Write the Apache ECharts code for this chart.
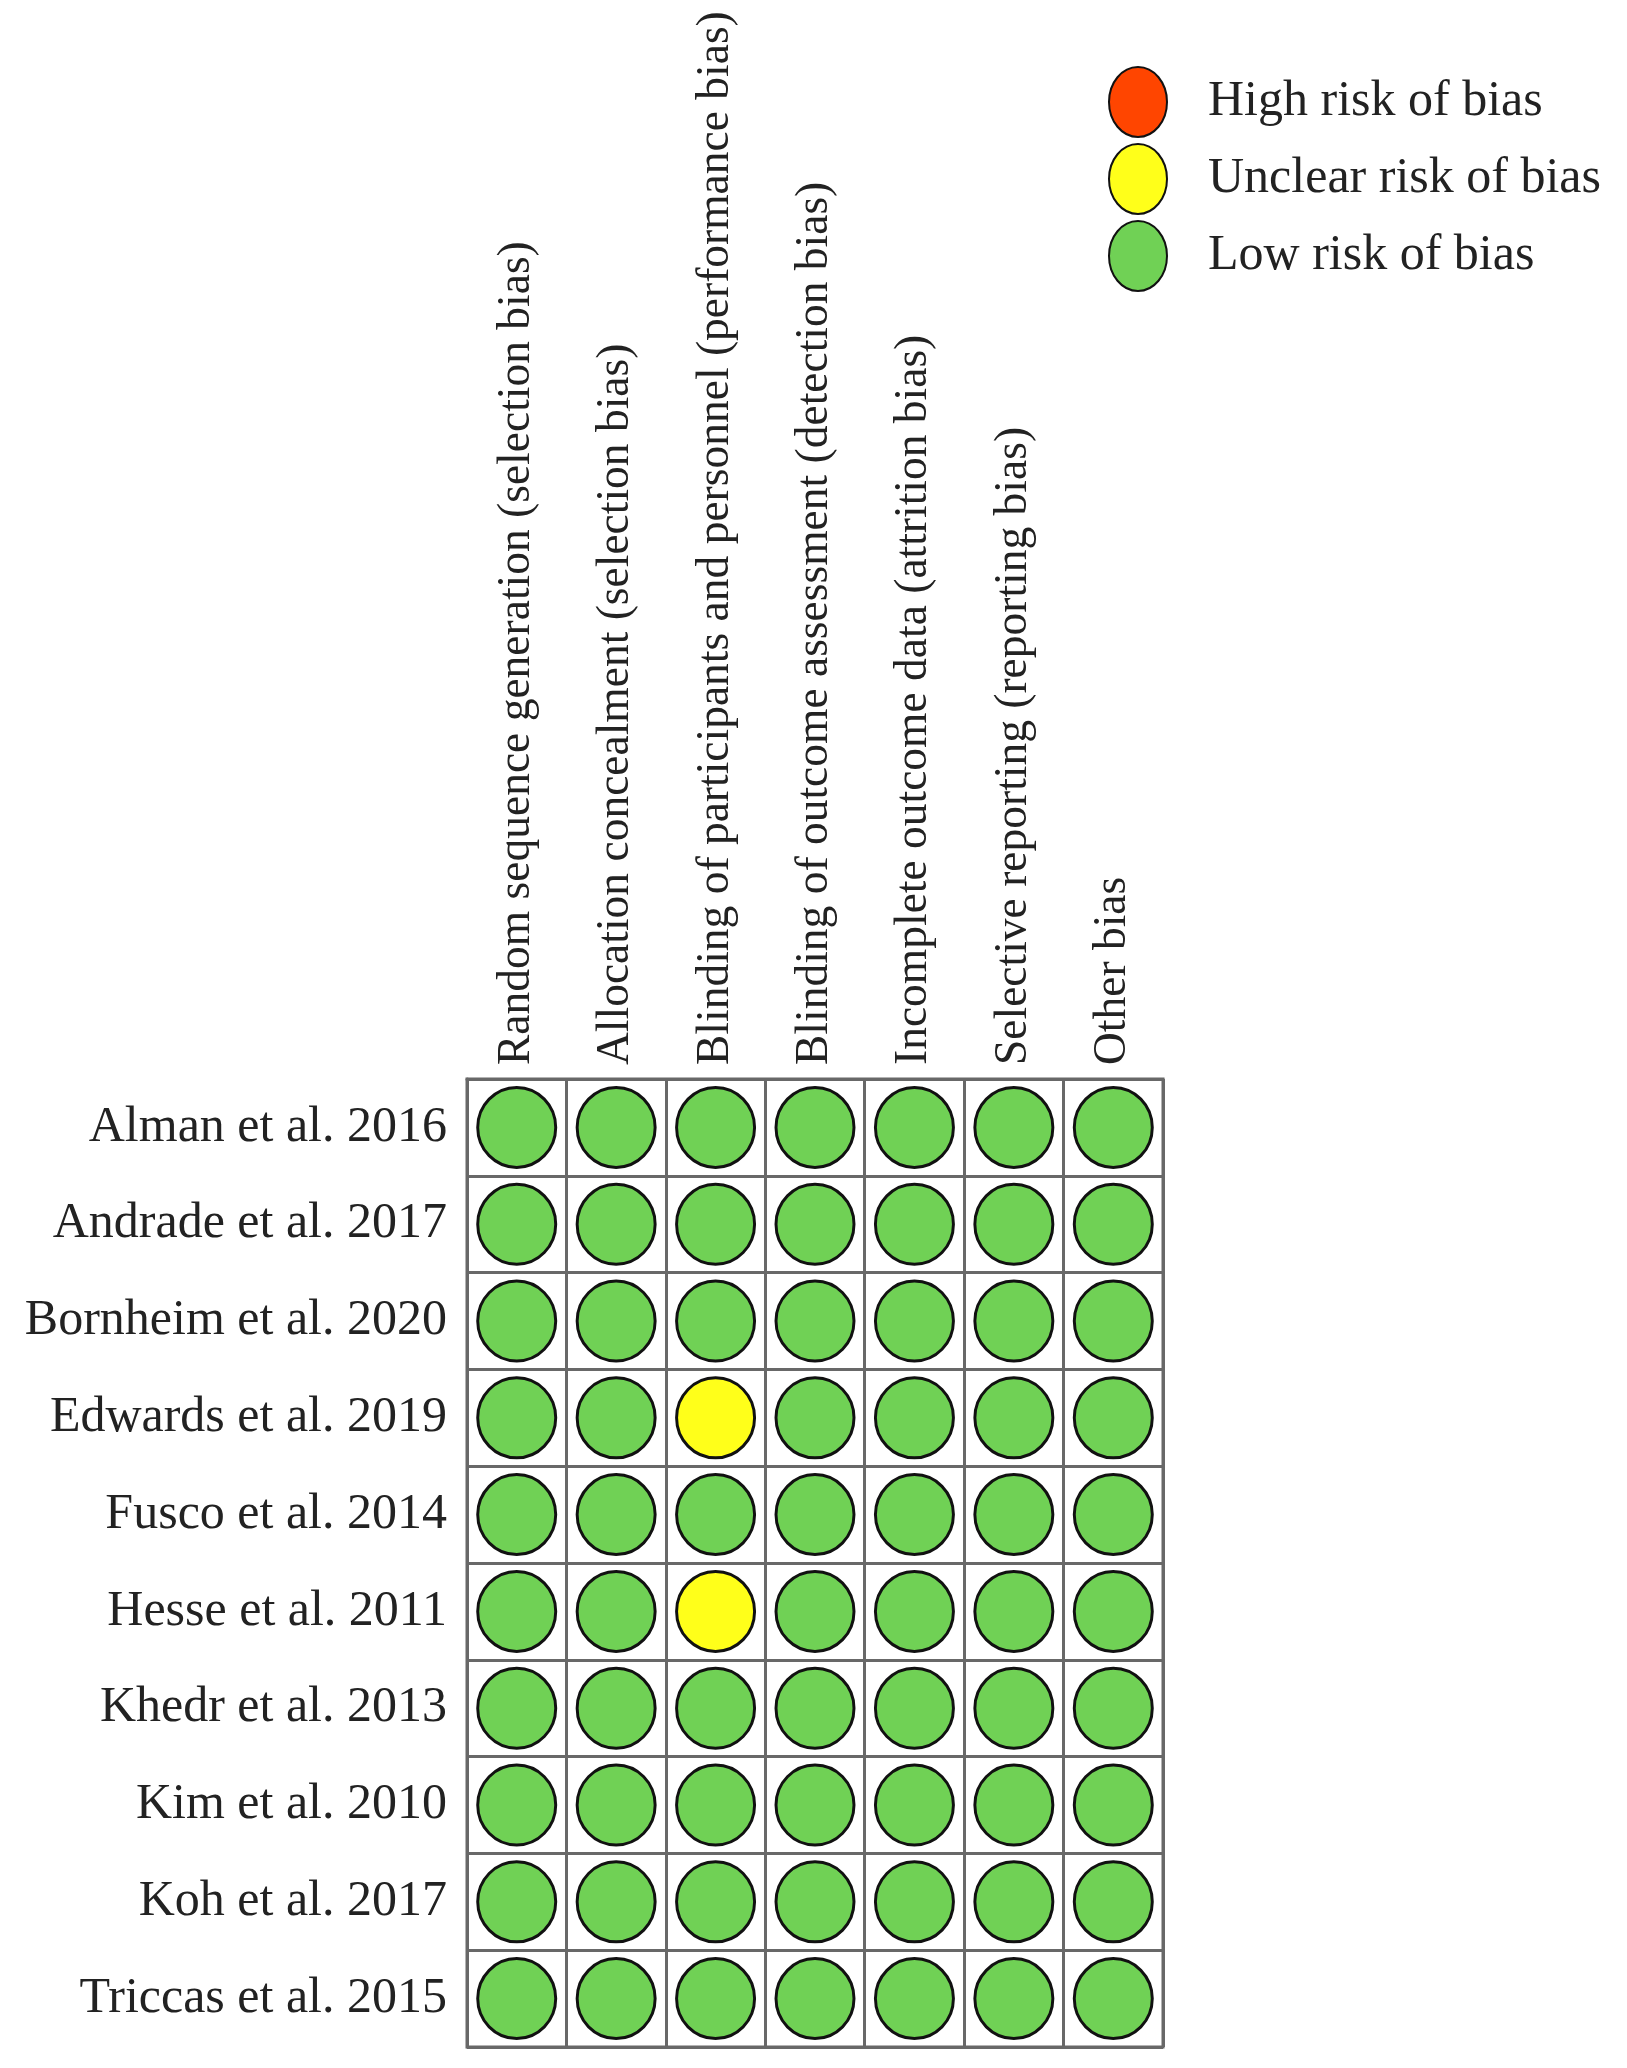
<!DOCTYPE html>
<html>
<head>
<meta charset="utf-8">
<script src="https://cdn.jsdelivr.net/npm/echarts@6/dist/echarts.min.js"></script>
<style>
html,body{margin:0;padding:0;background:#fff;}
#chart{width:1627px;height:2068px;}
</style>
</head>
<body>
<div id="chart"></div>
<script>
const studies = ["Alman et al. 2016","Andrade et al. 2017","Bornheim et al. 2020","Edwards et al. 2019","Fusco et al. 2014","Hesse et al. 2011","Khedr et al. 2013","Kim et al. 2010","Koh et al. 2017","Triccas et al. 2015"];
const domains = ["Random sequence generation (selection bias)","Allocation concealment (selection bias)","Blinding of participants and personnel (performance bias)","Blinding of outcome assessment (detection bias)","Incomplete outcome data (attrition bias)","Selective reporting (reporting bias)","Other bias"];
const levels = ["High risk of bias","Unclear risk of bias","Low risk of bias"];
// judgments per study, one code per domain: H = high, U = unclear, L = low
const judgments = [
  ["L","L","L","L","L","L","L"],
  ["L","L","L","L","L","L","L"],
  ["L","L","L","L","L","L","L"],
  ["L","L","U","L","L","L","L"],
  ["L","L","L","L","L","L","L"],
  ["L","L","U","L","L","L","L"],
  ["L","L","L","L","L","L","L"],
  ["L","L","L","L","L","L","L"],
  ["L","L","L","L","L","L","L"],
  ["L","L","L","L","L","L","L"]
];
const codes = ["H","U","L"];
const colors = ["#ff4500","#ffff1a","#70d155"];

const seriesData = codes.map(() => []);
judgments.forEach((row, r) => {
  row.forEach((c, d) => {
    seriesData[codes.indexOf(c)].push([d, r]);
  });
});

const chart = echarts.init(document.getElementById('chart'), null, {renderer:'canvas'});
const font = '"Liberation Serif","Times New Roman",serif';
const ellipse = 'path://M50,0 A50,50 0 1,1 50,100 A50,50 0 1,1 50,0 Z';
chart.setOption({
  backgroundColor:'#ffffff',
  animation:false,
  legend:{
    orient:'vertical',
    left:1103, top:61,
    itemWidth:58, itemHeight:70, itemGap:5,
    icon:ellipse,
    textStyle:{fontFamily:font,fontSize:50,color:'#222',padding:[0,0,0,36]},
    data:levels.map(n=>({name:n,icon:ellipse,symbolKeepAspect:false})),
    symbolKeepAspect:false,
    selectedMode:false
  },
  grid:{left:467,top:1079,width:696,height:968,show:true,borderColor:'#686868',borderWidth:3,backgroundColor:'transparent',outerBoundsMode:'none',containLabel:false},
  xAxis:{
    type:'category', position:'top', data:domains,
    axisLine:{show:true,lineStyle:{color:'#686868',width:3}},
    axisTick:{show:false},
    splitLine:{show:true,lineStyle:{color:'#686868',width:3}},
    axisLabel:{rotate:-90,margin:14,fontFamily:font,fontSize:45.5,color:'#222',interval:0}
  },
  yAxis:{
    type:'category', inverse:true, data:studies,
    axisLine:{show:true,lineStyle:{color:'#686868',width:3}},
    axisTick:{show:false},
    splitLine:{show:true,lineStyle:{color:'#686868',width:3}},
    axisLabel:{margin:20,fontFamily:font,fontSize:50,color:'#222',interval:0}
  },
  series: levels.map((name,i)=>({
    name:name,
    type:'scatter',
    symbol:'circle',
    symbolSize:[78,80],
    symbolKeepAspect:false,
    legendIcon:ellipse,
    data:seriesData[i],
    itemStyle:{color:colors[i],borderColor:'#111',borderWidth:3,opacity:1},
    emphasis:{disabled:true}
  }))
});
</script>
</body>
</html>
